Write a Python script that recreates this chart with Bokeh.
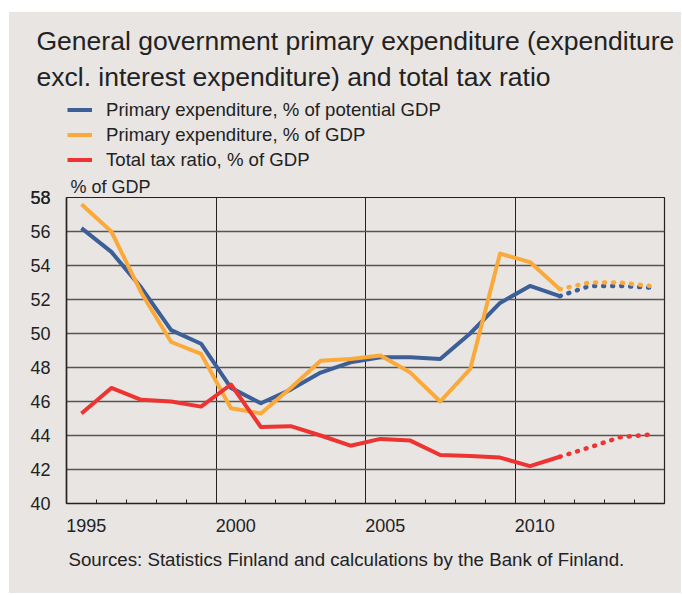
import numpy as np
from bokeh.plotting import figure
from bokeh.models import (Range1d, FixedTicker, CustomJSTickFormatter, Legend,
                          LegendItem, Title, Spacer)
from bokeh.layouts import column, row
from bokeh.embed import file_html
from bokeh.resources import INLINE

# ---- data ----
years = list(range(1995, 2015))
last_actual_year = 2011
primary_potential = [56.2, 54.8, 52.7, 50.2, 49.4, 46.8, 45.9, 46.7, 47.7, 48.3,
                     48.6, 48.6, 48.5, 50.0, 51.8, 52.8, 52.2, 52.8, 52.8, 52.7]
primary_gdp = [57.6, 56.0, 52.4, 49.5, 48.8, 45.6, 45.3, 46.8, 48.4, 48.5,
               48.7, 47.7, 46.0, 47.9, 54.7, 54.2, 52.6, 53.0, 53.0, 52.8]
tax_ratio = [45.3, 46.8, 46.1, 46.0, 45.7, 47.0, 44.5, 44.55, 44.0, 43.4,
             43.8, 43.7, 42.85, 42.8, 42.7, 42.2, 42.75, 43.3, 43.9, 44.05]
series_names = ["Primary expenditure, % of potential GDP",
                "Primary expenditure, % of GDP",
                "Total tax ratio, % of GDP"]
y_ticks = list(range(40, 60, 2))
x_label_years = [1995, 2000, 2005, 2010]

title_lines = ["General government primary expenditure (expenditure",
               "excl. interest expenditure) and total tax ratio"]
y_unit = "% of GDP"
source_text = "Sources: Statistics Finland and calculations by the Bank of Finland."

# ---- styling ----
BG = "#E8E5E2"
colors = ["#3D5F98", "#FBAA3A", "#EE3432"]
FONT = "Liberation Sans"
TXT = "#222222"
W = 672

def make_title(text, size, offset, standoff):
    return Title(text=text, text_font=FONT, text_font_size=size, text_color=TXT,
                 text_font_style="normal", align="left", offset=offset, standoff=standoff)

# ---------- header (title + legend) ----------
hdr = figure(width=W, height=160, output_backend="svg", toolbar_location=None,
             x_axis_location=None, y_axis_location=None,
             x_range=Range1d(0, 1), y_range=Range1d(0, 1),
             min_border_left=57, min_border_right=17, min_border_top=82, min_border_bottom=0)
hdr.background_fill_color = BG
hdr.border_fill_color = BG
hdr.outline_line_color = None
hdr.grid.visible = False
hdr.add_layout(make_title(title_lines[1], "26.5px", -30, 6), "above")
hdr.add_layout(make_title(title_lines[0], "26.5px", -30, 2), "above")

items = []
for name, c in zip(series_names, colors):
    # legend proxies (no visible data)
    r = hdr.line(x=np.array([np.nan]), y=np.array([np.nan]), line_color=c, line_width=4)
    items.append(LegendItem(label=name, renderers=[r]))
legend = Legend(items=items, location=(1, 0), orientation="vertical",
                label_text_font=FONT, label_text_font_size="18.6px", label_text_color=TXT,
                glyph_width=25, glyph_height=25, label_height=25, label_standoff=14,
                spacing=0, padding=0, margin=0,
                background_fill_alpha=0, border_line_alpha=0)
hdr.add_layout(legend, "center")

# ---------- main chart ----------
p = figure(width=W, height=421, output_backend="svg", toolbar_location=None,
           x_range=Range1d(1995, 2015), y_range=Range1d(40, 58),
           min_border_left=57, min_border_right=17, min_border_top=25, min_border_bottom=90)
p.background_fill_color = BG
p.border_fill_color = BG
p.outline_line_color = "#222222"
p.outline_line_width = 1.2

split = years.index(last_actual_year) + 1
xs = [y + 0.5 for y in years]
for vals, c in zip([primary_potential, primary_gdp, tax_ratio], colors):
    p.line(xs[:split], vals[:split], line_color=c, line_width=4, line_join="round")
    p.line(xs[split - 1:], vals[split - 1:], line_color=c, line_width=4.5,
           line_dash="1 8", line_cap="round")

xa = p.xaxis[0]
xa.ticker = FixedTicker(ticks=[y + 0.66 for y in x_label_years],
                        minor_ticks=list(range(1996, 2015)))
xa.formatter = CustomJSTickFormatter(code="return Math.floor(tick).toString()")
xa.major_tick_in = 0
xa.major_tick_out = 0
xa.minor_tick_in = 4
xa.minor_tick_out = 0
xa.minor_tick_line_color = "#222222"
xa.axis_line_color = "#222222"
xa.axis_line_width = 1.5
xa.major_label_standoff = 15

ya = p.yaxis[0]
ya.ticker = FixedTicker(ticks=y_ticks + [58], minor_ticks=[])
ya.major_tick_in = 0
ya.major_tick_out = 0
ya.axis_line_color = "#222222"
ya.axis_line_width = 1.5
ya.major_label_standoff = 16

for ax in (xa, ya):
    ax.major_label_text_font = FONT
    ax.major_label_text_font_size = "18px"
    ax.major_label_text_color = TXT

p.xgrid.ticker = FixedTicker(ticks=[2000, 2005, 2010])
p.xgrid.grid_line_color = "#222222"
p.xgrid.grid_line_width = 1
p.ygrid.ticker = FixedTicker(ticks=y_ticks)
p.ygrid.grid_line_color = "#555555"
p.ygrid.grid_line_width = 1.5

p.add_layout(make_title(y_unit, "18px", 4, 1), "above")
p.add_layout(make_title(source_text, "18.7px", 2, 25), "below")

chart = column(hdr, p, spacing=0, styles={"background-color": BG})
layout = column(Spacer(height=12),
                row(Spacer(width=9), chart, spacing=0),
                spacing=0)
open("out.html", "w").write(file_html(layout, INLINE))
